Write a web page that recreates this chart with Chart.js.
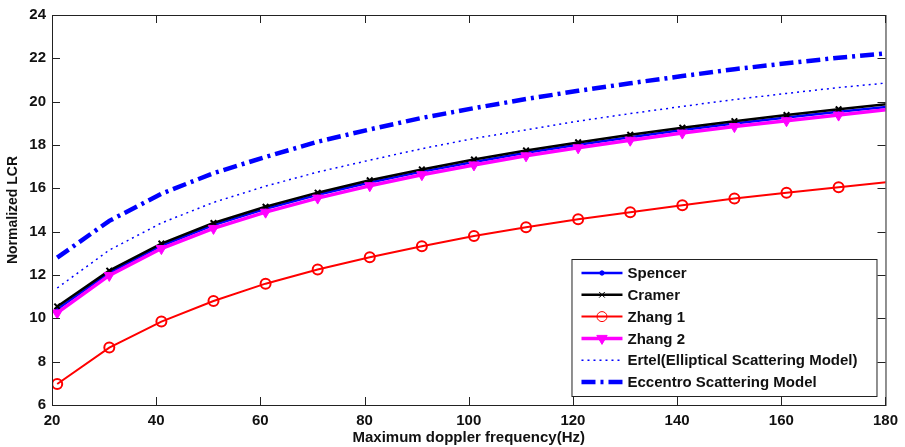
<!DOCTYPE html>
<html>
<head>
<meta charset="utf-8">
<script src="https://cdn.jsdelivr.net/npm/chart.js@4"></script>
<style>
  body { margin: 0; background: #fff; }
</style>
</head>
<body>
<canvas id="myChart" width="905" height="447"></canvas>
<script>
const freq = [21, 31, 41, 51, 61, 71, 81, 91, 101, 111, 121, 131, 141, 151, 161, 171, 181]
const spencer = [10.42, 12.1, 13.35, 14.3, 15.05, 15.7, 16.27, 16.77, 17.22, 17.64, 18.01, 18.36, 18.69, 18.99, 19.27, 19.54, 19.78]
const cramer = [10.55, 12.2, 13.45, 14.4, 15.15, 15.8, 16.37, 16.87, 17.33, 17.75, 18.12, 18.47, 18.8, 19.1, 19.38, 19.65, 19.9]
const zhang1 = [6.97, 8.65, 9.85, 10.8, 11.6, 12.25, 12.82, 13.33, 13.8, 14.2, 14.57, 14.9, 15.22, 15.53, 15.8, 16.05, 16.3]
const zhang2 = [10.25, 11.98, 13.22, 14.15, 14.9, 15.55, 16.12, 16.63, 17.08, 17.5, 17.87, 18.22, 18.55, 18.85, 19.12, 19.38, 19.65]
const ertel = [11.4, 13.15, 14.4, 15.35, 16.1, 16.75, 17.3, 17.83, 18.3, 18.7, 19.1, 19.45, 19.78, 20.1, 20.38, 20.65, 20.88]
const eccentro = [12.8, 14.5, 15.75, 16.7, 17.45, 18.15, 18.72, 19.25, 19.7, 20.12, 20.5, 20.85, 21.18, 21.5, 21.77, 22.03, 22.25]
const xTicks = [20, 40, 60, 80, 100, 120, 140, 160, 180]
const yTicks = [6, 8, 10, 12, 14, 16, 18, 20, 22, 24]

const FONT = 'Arial, "Liberation Sans", sans-serif'

function pts(vals) {
    return vals.map((v, i) => ({ x: freq[i], y: v }))
}
// no marker on the last point (it lies past the right edge)
function rad(r) {
    return ctx => ctx.dataIndex === freq.length - 1 ? 0 : r
}

const datasets = [{
        label: 'Spencer',
        data: pts(spencer),
        borderColor: '#0000ff',
        backgroundColor: '#0000ff',
        borderWidth: 2.5,
        pointStyle: 'circle',
        pointRadius: rad(2.2),
        pointBorderWidth: 1,
        order: 6
    },
    {
        label: 'Cramer',
        data: pts(cramer),
        borderColor: '#000000',
        backgroundColor: '#000000',
        borderWidth: 2.5,
        pointStyle: 'crossRot',
        pointRadius: rad(4),
        pointBorderWidth: 2,
        order: 5
    },
    {
        label: 'Zhang 1',
        data: pts(zhang1),
        borderColor: '#ff0000',
        backgroundColor: 'rgba(0,0,0,0)',
        borderWidth: 2,
        pointStyle: 'circle',
        pointRadius: rad(5),
        pointBorderWidth: 2,
        order: 4
    },
    {
        label: 'Zhang 2',
        data: pts(zhang2),
        borderColor: '#ff00ff',
        backgroundColor: '#ff00ff',
        borderWidth: 3.5,
        pointStyle: 'triangle',
        pointRotation: 180,
        pointRadius: rad(6),
        pointBorderWidth: 1,
        order: 3
    },
    {
        label: 'Ertel(Elliptical Scattering Model)',
        data: pts(ertel),
        borderColor: '#0000ff',
        backgroundColor: '#0000ff',
        borderWidth: 1.5,
        borderDash: [2, 4],
        pointRadius: 0,
        order: 2
    },
    {
        label: 'Eccentro Scattering Model',
        data: pts(eccentro),
        borderColor: '#0000ff',
        backgroundColor: '#0000ff',
        borderWidth: 4.5,
        borderDash: [14, 5, 3, 5],
        pointRadius: 0,
        order: 1
    }
]

// MATLAB style box with ticks pointing inward
const boxPlugin = {
    id: 'box',
    afterDatasetsDraw(chart) {
        const c = chart.ctx
        const a = chart.chartArea
        const xs = chart.scales.x, ys = chart.scales.y
        c.save()
        c.strokeStyle = '#222'
        c.lineWidth = 1
        c.strokeRect(a.left + 0.5, a.top + 0.5, a.right - a.left, a.bottom - a.top)
        c.beginPath()
        xTicks.forEach(t => {
            const px = Math.round(xs.getPixelForValue(t)) + 0.5
            c.moveTo(px, a.bottom); c.lineTo(px, a.bottom - 8)
            c.moveTo(px, a.top); c.lineTo(px, a.top + 8)
        })
        yTicks.forEach(t => {
            const py = Math.round(ys.getPixelForValue(t)) + 0.5
            c.moveTo(a.left, py); c.lineTo(a.left + 8, py)
            c.moveTo(a.right, py); c.lineTo(a.right - 8, py)
        })
        c.stroke()
        c.restore()
    }
}

// legend box inside the plot, lower right
const legendPlugin = {
    id: 'boxLegend',
    afterDraw(chart) {
        const c = chart.ctx
        const a = chart.chartArea
        const w = 305, h = 137
        const x0 = a.right - 9 - w, y0 = a.bottom - 9 - h
        c.save()
        c.fillStyle = '#fff'
        c.fillRect(x0, y0, w, h)
        c.strokeStyle = '#222'
        c.lineWidth = 1
        c.strokeRect(x0 + 0.5, y0 + 0.5, w, h)
        c.font = 'bold 15px ' + FONT
        c.textBaseline = 'middle'
        datasets.forEach((d, i) => {
            const yy = y0 + 14 + i * 21.8
            const lx0 = x0 + 10, lx1 = x0 + 51
            c.save()
            c.strokeStyle = d.borderColor
            c.lineWidth = d.borderWidth
            c.setLineDash(d.borderDash || [])
            c.beginPath()
            c.moveTo(lx0, yy); c.lineTo(lx1, yy)
            c.stroke()
            c.restore()
            if (d.pointStyle) {
                c.save()
                c.strokeStyle = d.borderColor
                c.fillStyle = d.backgroundColor
                Chart.helpers.drawPoint(c, {
                    pointStyle: d.pointStyle,
                    rotation: d.pointRotation || 0,
                    radius: d.pointRadius({ dataIndex: 0 }),
                    borderWidth: d.pointBorderWidth
                }, (lx0 + lx1) / 2, yy)
                c.restore()
            }
            c.fillStyle = '#111'
            c.fillText(d.label, x0 + 56, yy + 1)
        })
        c.restore()
    }
}

const config = {
    type: 'line',
    data: { datasets: datasets },
    options: {
        responsive: false,
        animation: false,
        layout: { padding: { left: 0, right: 19, top: 15, bottom: 0 } },
        plugins: {
            legend: { display: false },
            tooltip: { enabled: false }
        },
        scales: {
            x: {
                type: 'linear',
                min: 20,
                max: 180,
                grid: { display: false, drawTicks: false },
                border: { display: false },
                afterBuildTicks: s => { s.ticks = xTicks.map(v => ({ value: v })) },
                afterFit: s => { s.height = 42 },
                ticks: {
                    color: '#111',
                    padding: 7,
                    maxRotation: 0,
                    font: { family: FONT, size: 15, weight: 'bold' }
                },
                title: {
                    display: true,
                    text: 'Maximum doppler frequency(Hz)',
                    color: '#111',
                    padding: { top: 0, bottom: 0 },
                    font: { family: FONT, size: 15, weight: 'bold' }
                }
            },
            y: {
                min: 6,
                max: 24,
                grid: { display: false, drawTicks: false },
                border: { display: false },
                afterBuildTicks: s => { s.ticks = yTicks.map(v => ({ value: v })) },
                afterFit: s => { s.width = 52 },
                ticks: {
                    color: '#111',
                    padding: 6,
                    font: { family: FONT, size: 15, weight: 'bold' }
                },
                title: {
                    display: true,
                    text: 'Normalized LCR',
                    color: '#111',
                    padding: { top: 5, bottom: 0 },
                    font: { family: FONT, size: 14, weight: 'bold' }
                }
            }
        }
    },
    plugins: [boxPlugin, legendPlugin]
}

var myChart = new Chart(
    document.getElementById('myChart'),
    config
)
</script>
</body>
</html>
